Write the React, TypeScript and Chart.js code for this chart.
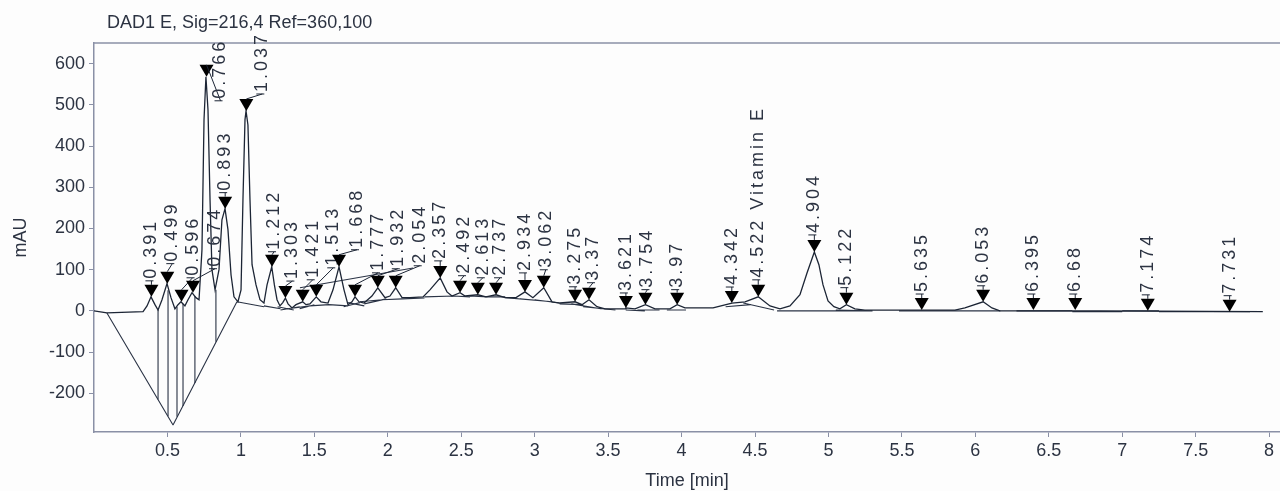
import React, { useEffect, useRef } from "react";
import { Chart, registerables } from "chart.js";

Chart.register(...registerables);

// ---- data (time in min, signal in mAU) ----
const timeMin = [
  0, 0.088, 0.334, 0.361, 0.388, 0.415, 0.436, 0.463, 0.497, 0.524, 0.551, 0.572, 0.592, 0.619, 0.64, 0.667,
  0.694, 0.715, 0.735, 0.749, 0.762, 0.776, 0.79, 0.803, 0.824, 0.851, 0.871, 0.892, 0.912, 0.933, 0.953, 0.98,
  1.001, 1.014, 1.028, 1.035, 1.048, 1.062, 1.076, 1.103, 1.13, 1.157, 1.178, 1.21, 1.228, 1.246, 1.266, 1.285,
  1.303, 1.321, 1.348, 1.375, 1.421, 1.443, 1.47, 1.513, 1.545, 1.593, 1.627, 1.668, 1.702, 1.729, 1.756, 1.777,
  1.804, 1.838, 1.892, 1.932, 1.981, 2.015, 2.054, 2.097, 2.151, 2.24, 2.287, 2.357, 2.403, 2.437, 2.492, 2.526,
  2.613, 2.668, 2.737, 2.798, 2.873, 2.934, 2.988, 3.062, 3.118, 3.172, 3.275, 3.322, 3.37, 3.424, 3.479, 3.615,
  3.621, 3.683, 3.754, 3.819, 3.921, 3.97, 4.023, 4.214, 4.343, 4.432, 4.522, 4.602, 4.67, 4.738, 4.806, 4.854,
  4.904, 4.935, 4.963, 4.997, 5.037, 5.078, 5.122, 5.18, 5.248, 5.487, 5.861, 5.929, 6.053, 6.113, 6.167, 6.848,
  7.957,
];
const signalMAU = [
  0, -5, -2, 12, 34, 15, 2, 27, 66, 32, 5, 15, 22, 12, 27, 44,
  32, 27, 148, 464, 568, 488, 269, 100, 51, 100, 221, 248, 197, 87, 34, 22,
  51, 269, 464, 485, 451, 269, 112, 63, 27, 19, 63, 107, 63, 27, 12, 20,
  31, 17, 7, 15, 22, 15, 17, 34, 22, 19, 51, 107, 51, 15, 22, 34,
  22, 19, 36, 56, 32, 36, 56, 32, 32, 34, 51, 80, 46, 36, 44, 36,
  39, 34, 39, 32, 32, 46, 32, 56, 22, 19, 22, 15, 27, 10, 5, 5,
  7, 5, 15, 5, 5, 15, 7, 7, 19, 22, 34, 12, 5, 12, 39, 92,
  143, 112, 63, 24, 10, 5, 15, 5, 2, 2, 2, 7, 22, 7, 0, 0,
  -2,
];

// detected peaks
const peakTimes = [
  0.391, 0.499, 0.596, 0.674, 0.766, 0.893, 1.037, 1.212, 1.303, 1.421, 1.513, 1.668, 1.777, 1.932, 2.054, 2.357,
  2.492, 2.613, 2.737, 2.934, 3.062, 3.275, 3.37, 3.621, 3.754, 3.97, 4.342, 4.522, 4.904, 5.122, 5.635, 6.053,
  6.395, 6.68, 7.174, 7.731,
];
const peakHeights = [
  34, 66, 22, 44, 568, 248, 485, 107, 31, 22, 34, 107, 34, 56, 56, 80,
  44, 39, 39, 46, 56, 22, 27, 7, 15, 15, 19, 34, 143, 15, 2, 22,
  2, 2, 0, -2,
];
const peakLabels = [
  "0.391", "0.499", "0.596", "0.674", "0.766", "0.893", "1.037", "1.212", "1.303", "1.421", "1.513", "1.668",
  "1.777", "1.932", "2.054", "2.357", "2.492", "2.613", "2.737", "2.934", "3.062", "3.275", "3.37", "3.621",
  "3.754", "3.97", "4.342", "4.522 Vitamin E", "4.904", "5.122", "5.635", "6.053", "6.395", "6.68", "7.174", "7.731",
];

// integration baselines: [t1, y1, t2, y2]
const baselineSegments: number[][] = [
  [0.088, -5, 0.538, -277], [0.538, -277, 0.973, 22], [0.973, 22, 1.157, 10],
  [1.157, 12, 1.27, 5], [1.25, 10, 1.36, 2], [1.27, 2, 1.4, 10], [1.36, 7, 1.47, 12], [1.4, 5, 1.5, 15],
  [1.47, 12, 1.6, 15], [1.6, 15, 1.73, 12], [1.7, 10, 1.81, 20], [1.73, 20, 1.84, 12], [1.81, 22, 1.96, 27],
  [1.84, 17, 1.99, 29], [1.96, 27, 2.1, 29], [2.1, 29, 2.25, 31], [2.25, 34, 2.45, 36], [2.45, 36, 2.56, 34],
  [2.56, 36, 2.68, 34], [2.68, 34, 2.8, 34], [2.8, 32, 2.96, 27], [2.9, 29, 3.12, 22], [3.0, 27, 3.17, 19],
  [3.17, 17, 3.33, 15], [3.25, 17, 3.45, 5], [3.33, 10, 3.55, 2], [3.62, 2, 3.75, 0], [3.7, 2, 3.85, 2],
  [3.9, 2, 4.03, 2], [4.3, 10, 4.47, 15], [4.42, 19, 4.63, 2], [4.65, 0, 5.3, 0], [5.05, 2, 5.28, 0],
  [5.48, 0, 5.9, 0], [5.9, 0, 6.17, 0], [6.28, 0, 6.66, 0], [6.66, -2, 6.78, -2], [6.78, -2, 7.0, -2],
  [7.0, 0, 7.25, 0], [7.25, -2, 7.47, -2], [7.47, -2, 7.87, -2], [1.402, 56, 2.172, 104],
];
// drop lines: [t, top, bottom]
const dropLines: number[][] = [
  [0.436, 2, -215], [0.504, 50, -256], [0.565, 10, -257], [0.606, 17, -231], [0.687, 36, -175], [0.83, 51, -75],
];

const xTickValues = [0.5, 1, 1.5, 2, 2.5, 3, 3.5, 4, 4.5, 5, 5.5, 6, 6.5, 7, 7.5, 8];
const yTickValues = [-200, -100, 0, 100, 200, 300, 400, 500, 600];

// label layout (pixels): horizontal shift of label from marker, gap above marker top
const labelShiftX = [
  0, 5, 11, 22, 14, 0, 16, 2, 7, 10, 17, 18, 23, 20, 24, 0,
  4, 5, 4, 0, 2, 0, 4, 0, 2, 0, 0, 0, 0, 0, 0, 0,
  0, 0, 0, 0,
];
const labelGap = [
  4, 8, 12, 12, -36, 4, 5, 3, 5, 10, 17, 5, 12, 7, 10, 5,
  5, 5, 5, 7, 6, 3, 5, 3, 3, 3, 4, 5, 5, 5, 4, 4,
  4, 4, 4, 4,
];

const FONT = "'Liberation Sans', Arial, sans-serif";
const TEXT = "#2c3342";
const AXIS = "#8a90a6";
const TRACE = "#1c2535";

const annotate = {
  id: "annotate",
  beforeDraw(chart: any) {
    const { ctx, width, height } = chart;
    ctx.save();
    ctx.fillStyle = "#fdfdfd";
    ctx.fillRect(0, 0, width, height);
    ctx.restore();
  },
  afterDatasetsDraw(chart: any) {
    const { ctx, chartArea, scales } = chart;
    const xs = scales.x;
    const ys = scales.y;
    ctx.save();
    // top frame line
    ctx.strokeStyle = AXIS;
    ctx.lineWidth = 1.5;
    ctx.beginPath();
    ctx.moveTo(chartArea.left, chartArea.top);
    ctx.lineTo(chartArea.right, chartArea.top);
    ctx.stroke();

    ctx.font = `18px ${FONT}`;
    try { (ctx as any).letterSpacing = "3px"; } catch (e) {}
    peakTimes.forEach((t, i) => {
      const mx = xs.getPixelForValue(t);
      const tip = ys.getPixelForValue(peakHeights[i]);
      const top = tip - 12;
      ctx.fillStyle = "#000";
      ctx.beginPath();
      ctx.moveTo(mx - 7, top);
      ctx.lineTo(mx + 7, top);
      ctx.lineTo(mx, tip);
      ctx.closePath();
      ctx.fill();
      const lx = mx + labelShiftX[i];
      const lb = top - labelGap[i];
      ctx.strokeStyle = "#1c2535";
      ctx.lineWidth = 1;
      ctx.beginPath();
      ctx.moveTo(mx, top);
      ctx.lineTo(lx, lb);
      ctx.moveTo(lx - 6, lb);
      ctx.lineTo(lx + 2, lb);
      ctx.stroke();
      ctx.save();
      ctx.translate(lx, lb - 2);
      ctx.rotate(-Math.PI / 2);
      ctx.fillStyle = TEXT;
      ctx.textAlign = "left";
      ctx.textBaseline = "middle";
      ctx.fillText(peakLabels[i], 0, 0);
      ctx.restore();
    });
    ctx.restore();
  },
  afterDraw(chart: any) {
    const { ctx, chartArea } = chart;
    ctx.save();
    ctx.fillStyle = TEXT;
    ctx.font = `18px ${FONT}`;
    ctx.textBaseline = "middle";
    ctx.textAlign = "left";
    ctx.fillText("DAD1 E, Sig=216,4 Ref=360,100", 107, 23);
    ctx.textAlign = "center";
    ctx.fillText("Time [min]", (chartArea.left + chartArea.right) / 2, 481);
    ctx.save();
    ctx.translate(21, (chartArea.top + chartArea.bottom) / 2);
    ctx.rotate(-Math.PI / 2);
    ctx.fillText("mAU", 0, 0);
    ctx.restore();
    ctx.restore();
  },
};

function segmentsToPoints(segs: number[][]) {
  const pts: any[] = [];
  segs.forEach(([t1, y1, t2, y2]) => {
    pts.push({ x: t1, y: y1 }, { x: t2, y: y2 }, { x: t2, y: null });
  });
  return pts;
}

export default function App() {
  const ref = useRef<HTMLCanvasElement | null>(null);
  useEffect(() => {
    if (!ref.current) return;
    const signal = timeMin.map((t, i) => ({ x: t, y: signalMAU[i] }));
    const base = segmentsToPoints(baselineSegments);
    const drops = segmentsToPoints(dropLines.map(([t, a, b]) => [t, a, t, b]));
    const chart = new Chart(ref.current, {
      type: "line",
      data: {
        datasets: [
          { data: signal, borderColor: TRACE, borderWidth: 1.3, pointRadius: 0, tension: 0, order: 1 },
          { data: base, borderColor: "#2a3345", borderWidth: 1.1, pointRadius: 0, spanGaps: false, order: 2 },
          { data: drops, borderColor: "#2a3345", borderWidth: 1.1, pointRadius: 0, spanGaps: false, order: 3 },
        ],
      },
      options: {
        animation: false,
        responsive: false,
        devicePixelRatio: 1,
        events: [],
        layout: { padding: { top: 43, right: 0, left: 0, bottom: 0 } },
        plugins: { legend: { display: false }, tooltip: { enabled: false }, title: { display: false } },
        scales: {
          x: {
            type: "linear",
            min: 0,
            max: 8.074,
            afterFit: (s: any) => { s.height = 59; },
            afterBuildTicks: (s: any) => { s.ticks = xTickValues.map((v) => ({ value: v })); },
            grid: { display: true, drawOnChartArea: false, drawTicks: true, tickLength: 5, color: AXIS },
            border: { display: true, color: AXIS, width: 1.5 },
            ticks: { color: TEXT, font: { family: FONT, size: 18 }, padding: 3, maxRotation: 0, autoSkip: false, callback: (v: any) => String(v) },
          },
          y: {
            type: "linear",
            min: -294,
            max: 650,
            afterFit: (s: any) => { s.width = 94; },
            afterBuildTicks: (s: any) => { s.ticks = yTickValues.map((v) => ({ value: v })); },
            grid: { display: true, drawOnChartArea: false, drawTicks: true, tickLength: 5, color: AXIS },
            border: { display: true, color: AXIS, width: 1.5 },
            ticks: { color: TEXT, font: { family: FONT, size: 18 }, padding: 4, autoSkip: false, callback: (v: any) => String(v) },
          },
        },
      },
      plugins: [annotate],
    });
    return () => chart.destroy();
  }, []);
  return (
    <div style={{ position: "fixed", left: 0, top: 0, width: 1280, height: 491 }}>
      <canvas ref={ref} width={1280} height={491} />
    </div>
  );
}
